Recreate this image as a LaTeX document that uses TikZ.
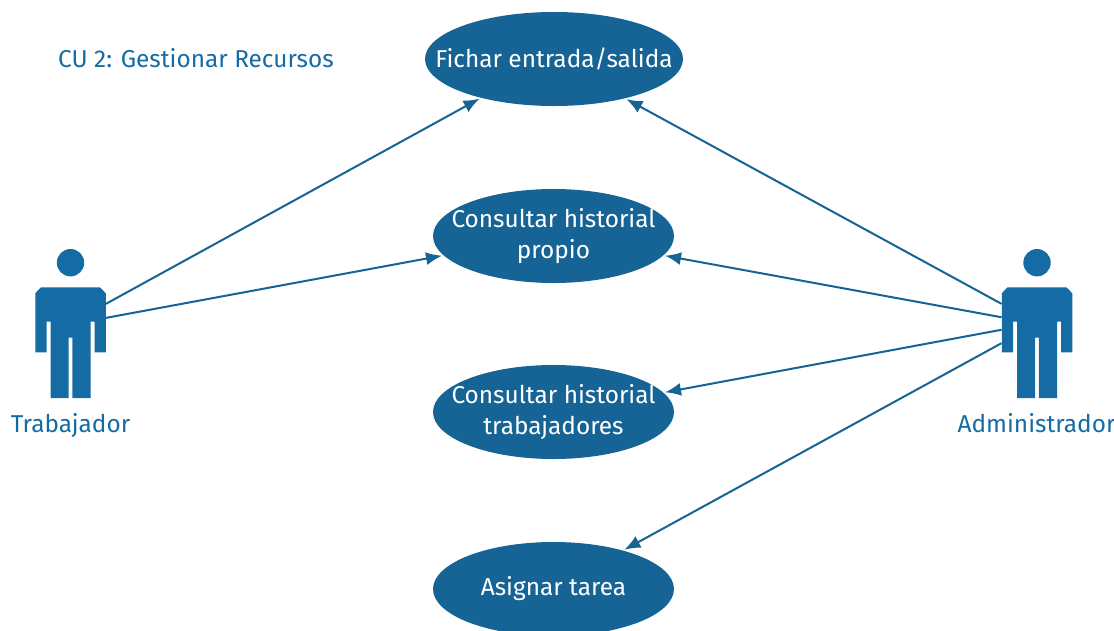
\documentclass[tikz,border=0pt]{standalone}
\usepackage{fontspec}
\setmainfont{Fira Sans}
\usetikzlibrary{shapes.geometric,arrows.meta}
\definecolor{azul}{HTML}{156495}
\definecolor{azulfig}{HTML}{156CA5}
\tikzset{
  caso/.style={ellipse,fill=azul,text=white,inner xsep=-50pt,inner ysep=-20pt,align=center,font=\fontsize{24.4}{31}\selectfont},
  actor/.style={minimum width=70.5pt,minimum height=150pt,inner sep=0pt},
  rotulo/.style={text=azulfig,font=\fontsize{24.4}{28}\selectfont},
  flecha/.style={draw=azul,line width=2pt,shorten >=1.5pt,-{Latex[length=16pt,width=13pt]}},
}
% figure, around the centre of its node
\newcommand{\figura}[1]{%
  \begin{scope}[shift={(#1)}]
    \fill[azulfig] (0,-60.8) circle [radius=13.7];
    \fill[azulfig] (-29.5,-36.2) -- (29.5,-36.2) -- (35.25,-30.2) -- (35.25,28.8) -- (24,28.8)
      -- (24,-2) -- (20,-2) -- (20,74.5) -- (1.9,74.5) -- (1.9,14) -- (-1.9,14) -- (-1.9,74.5)
      -- (-20,74.5) -- (-20,-2) -- (-24,-2) -- (-24,28.8) -- (-35.25,28.8) -- (-35.25,-30.2) -- cycle;
  \end{scope}}
\begin{document}
\begin{tikzpicture}[x=1pt,y=-1pt]
    \useasboundingbox (0,0) rectangle (1114,630);

    % casos de uso
    \node[caso,minimum width=258pt,minimum height=94pt] (fichar) at (554,59) {Fichar entrada/salida};
    \node[caso,minimum width=241pt,minimum height=94pt] (propio) at (553.5,236) {Consultar historial\\propio};
    \node[caso,minimum width=241pt,minimum height=94pt] (trabajadores) at (553.5,412) {Consultar historial\\trabajadores};
    \node[caso,minimum width=241pt,minimum height=94pt] (tarea) at (553.5,589) {Asignar tarea};

    % actores
    \node[actor] (trabajador) at (70.5,323.5) {};
    \node[actor] (administrador) at (1037,323.5) {};
    \figura{trabajador.center}
    \figura{administrador.center}
    \node[rotulo,anchor=base] (ltrab) at (70.5,432) {Trabajador};
    \node[rotulo,anchor=base] (ladmin) at (1036.5,432) {Administrador};
    \node[rotulo,anchor=base west,inner sep=0pt] (titulo) at (58,67) {CU 2: Gestionar Recursos};

    \draw[flecha] (trabajador.29) -- (fichar.208.6);
    \draw[flecha] (trabajador.9) -- (propio.190);
    \draw[flecha] (administrador.151) -- (fichar.331.2);
    \draw[flecha] (administrador.170) -- (propio.-10);
    \draw[flecha] (administrador.190.4) -- (trabajadores.10.6);
    \draw[flecha] (administrador.209) -- (tarea.29.3);
\end{tikzpicture}
\end{document}
